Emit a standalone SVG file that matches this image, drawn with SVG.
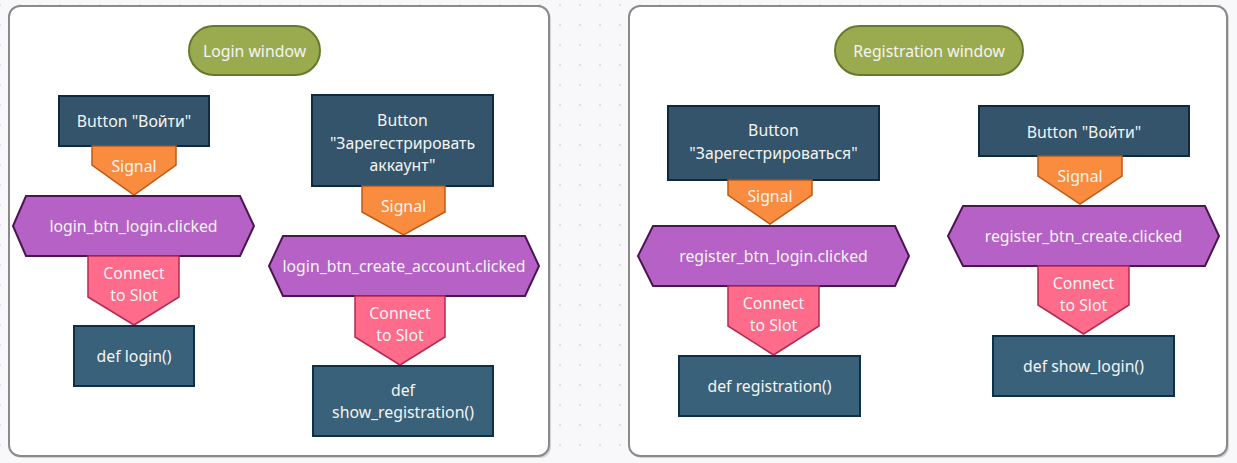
<svg xmlns="http://www.w3.org/2000/svg" width="1237" height="463" viewBox="0 0 1237 463">
<defs>
<pattern id="dots" x="0" y="5" width="20" height="20" patternUnits="userSpaceOnUse">
<circle cx="0" cy="0" r="1" fill="#d9dae2"/><circle cx="20" cy="0" r="1" fill="#d9dae2"/><circle cx="0" cy="20" r="1" fill="#d9dae2"/><circle cx="20" cy="20" r="1" fill="#d9dae2"/>
</pattern>
<style>
text{font-family:"Noto Sans","Open Sans","Liberation Sans",sans-serif;font-size:15.8px;fill:#f4f4f4;text-anchor:middle;dominant-baseline:central}
.panel{fill:#ffffff;stroke:#8a8a8a;stroke-width:2}
.shadow{fill:#d4d4d8}
.pill{fill:#9aab4f;stroke:#66782c;stroke-width:2}
.btn{fill:#33546a;stroke:#0e2a3f;stroke-width:2}
.slot{fill:#396179;stroke:#0e2f49;stroke-width:2}
.sig{fill:#fa8c40;stroke:#bf5a16;stroke-width:1.5}
.evt{fill:#b561c5;stroke:#4b1552;stroke-width:2}
.con{fill:#fe6b8b;stroke:#b22b51;stroke-width:1.5}
</style>
</defs>
<rect width="1237" height="463" fill="#f8f8fa"/>
<rect width="1237" height="463" fill="url(#dots)"/>

<g id="panel-login">
<rect class="shadow" x="11" y="8" width="540" height="450" rx="11"/>
<rect class="panel" x="9" y="6" width="540" height="450" rx="11"/>
</g>
<g id="panel-registration">
<rect class="shadow" x="631" y="8" width="598" height="450" rx="11"/>
<rect class="panel" x="629" y="6" width="598" height="450" rx="11"/>
</g>

<g id="connectors"></g>

<g id="login-window-title">
<rect class="pill" x="189" y="26" width="131" height="49" rx="24.5"/>
<text x="254.5" y="51">Login window</text>
</g>
<g id="registration-window-title">
<rect class="pill" x="835" y="26" width="188" height="49" rx="24.5"/>
<text x="929" y="51">Registration window</text>
</g>

<!-- Left panel, column 1 -->
<g id="btn-login">
<rect class="btn" x="59" y="96" width="150" height="50"/>
<text x="134" y="121">Button "Войти"</text>
</g>
<g id="signal-1">
<polygon class="sig" points="92,146 176,146 176,165 134,195 92,165"/>
<text x="134" y="166">Signal</text>
</g>
<g id="evt-login-btn-login">
<polygon class="evt" points="26,196 240,196 254,226 240,256 26,256 13,226"/>
<text x="133.5" y="226">login_btn_login.clicked</text>
</g>
<g id="connect-1">
<polygon class="con" points="88,256 179,256 179,297 134,325 88,297"/>
<text x="134" y="273">Connect</text>
<text x="134" y="295">to Slot</text>
</g>
<g id="slot-login">
<rect class="slot" x="74" y="326" width="120" height="60"/>
<text x="134" y="356">def login()</text>
</g>

<!-- Left panel, column 2 -->
<g id="btn-create-account">
<rect class="btn" x="312" y="95" width="181" height="91"/>
<text x="402.5" y="120">Button</text>
<text x="402.5" y="142.5">"Зарегестрировать</text>
<text x="402.5" y="165">аккаунт"</text>
</g>
<g id="signal-2">
<polygon class="sig" points="362,186 445,186 445,212 403.5,235 362,212"/>
<text x="403.5" y="206">Signal</text>
</g>
<g id="evt-login-btn-create-account">
<polygon class="evt" points="283,236 525,236 539,266 525,296 283,296 269,266"/>
<text x="404" y="266">login_btn_create_account.clicked</text>
</g>
<g id="connect-2">
<polygon class="con" points="355,296 445,296 445,337 400,365 355,337"/>
<text x="400" y="313">Connect</text>
<text x="400" y="335">to Slot</text>
</g>
<g id="slot-show-registration">
<rect class="slot" x="313" y="366" width="180" height="70"/>
<text x="403" y="390">def</text>
<text x="403" y="412">show_registration()</text>
</g>

<!-- Right panel, column 1 -->
<g id="btn-register">
<rect class="btn" x="668" y="106" width="211" height="74"/>
<text x="773.5" y="130">Button</text>
<text x="773.5" y="153">"Зарегестрироваться"</text>
</g>
<g id="signal-3">
<polygon class="sig" points="728,180 812,180 812,195 770,224 728,195"/>
<text x="770" y="196">Signal</text>
</g>
<g id="evt-register-btn-login">
<polygon class="evt" points="653,226 895,226 909,256 895,286 653,286 638,256"/>
<text x="773.5" y="256">register_btn_login.clicked</text>
</g>
<g id="connect-3">
<polygon class="con" points="728,286 819,286 819,326 773.5,355 728,326"/>
<text x="773.5" y="303">Connect</text>
<text x="773.5" y="325">to Slot</text>
</g>
<g id="slot-registration">
<rect class="slot" x="679" y="356" width="181" height="60"/>
<text x="769.5" y="386">def registration()</text>
</g>

<!-- Right panel, column 2 -->
<g id="btn-show-login">
<rect class="btn" x="979" y="106" width="210" height="50"/>
<text x="1084" y="132">Button "Войти"</text>
</g>
<g id="signal-4">
<polygon class="sig" points="1038,156 1122,156 1122,176 1080,204 1038,176"/>
<text x="1080" y="176">Signal</text>
</g>
<g id="evt-register-btn-create">
<polygon class="evt" points="963,206 1205,206 1219,236 1205,266 963,266 948,236"/>
<text x="1083.5" y="236">register_btn_create.clicked</text>
</g>
<g id="connect-4">
<polygon class="con" points="1038,266 1129,266 1129,305 1083.5,334 1038,305"/>
<text x="1083.5" y="283">Connect</text>
<text x="1083.5" y="305">to Slot</text>
</g>
<g id="slot-show-login">
<rect class="slot" x="993" y="336" width="181" height="60"/>
<text x="1083.5" y="366">def show_login()</text>
</g>
</svg>
